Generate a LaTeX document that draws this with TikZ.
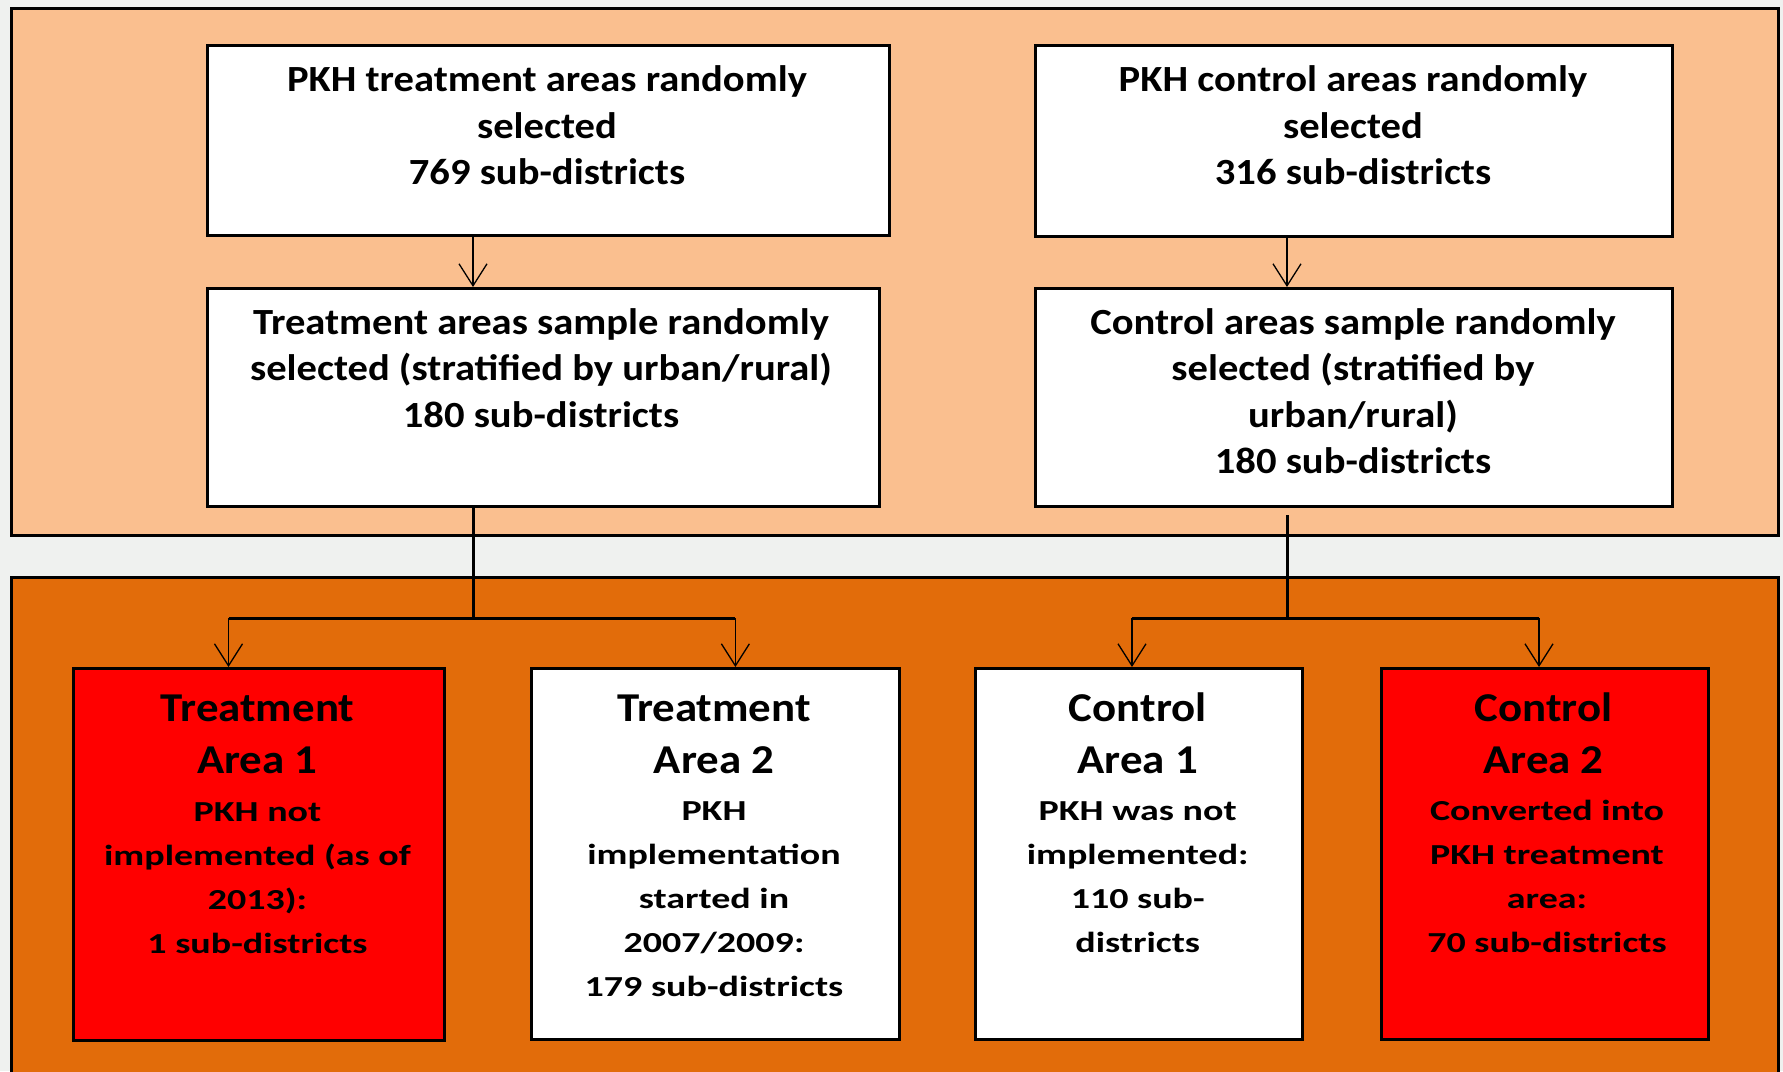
\documentclass[tikz,border=0pt]{standalone}
\usepackage{fontspec}
\setmainfont{Carlito}
\newfontfamily\topfont[FakeStretch=1.10]{Carlito}
\newfontfamily\bigfont[FakeStretch=1.095]{Carlito}
\newfontfamily\smallfont[FakeStretch=1.31]{Carlito}
\usetikzlibrary{arrows.meta}
\definecolor{bgcol}{RGB}{239,241,239}
\definecolor{peach}{RGB}{250,191,143}
\definecolor{orangedark}{RGB}{226,108,10}
\definecolor{redbox}{RGB}{255,0,0}
\tikzset{
  panel/.style={draw=black, line width=3pt, rectangle, inner sep=0pt, anchor=north west},
  box/.style={draw=black, line width=3pt, fill=white, rectangle, inner sep=0pt, anchor=north west},
  redfill/.style={fill=redbox},
  toptext/.style={anchor=base, inner sep=0pt, font=\topfont\bfseries\fontsize{36.9pt}{46.6pt}\selectfont},
  bigtext/.style={anchor=base, inner sep=0pt, font=\bigfont\bfseries\fontsize{41pt}{52.5pt}\selectfont},
  smalltext/.style={anchor=base, inner sep=0pt, font=\smallfont\bfseries\fontsize{29pt}{44pt}\selectfont},
  arr/.style={line width=1.3pt, -{Straight Barb[length=22pt, width=28pt]}},
  trunk/.style={line width=3pt}
}
\begin{document}
\begin{tikzpicture}[x=1pt, y=-1pt]
\useasboundingbox (0,0) rectangle (1783,1071);
\clip (0,0) rectangle (1783,1071);
\fill[bgcol] (0,0) rectangle (1783,1071);

% panels
\node[panel, fill=peach, minimum width=1767pt, minimum height=527pt] (toppanel) at (10,7) {};
\node[panel, fill=orangedark, minimum width=1767pt, minimum height=520pt] (botpanel) at (10,576) {};

% top boxes
\node[box, minimum width=682pt, minimum height=190pt] (box1) at (206,44) {};
\node[box, minimum width=672pt, minimum height=218pt] (box2) at (206,287) {};
\node[box, minimum width=637pt, minimum height=191pt] (box3) at (1034,44) {};
\node[box, minimum width=637pt, minimum height=218pt] (box4) at (1034,287) {};

\node[toptext] (t1) at (547,91.7) {\parbox[t]{700pt}{\centering PKH treatment areas randomly\\selected\\769 sub-districts}};
\node[toptext] (t2) at (541,334) {\parbox[t]{700pt}{\centering Treatment areas sample randomly\\selected (stratified by urban/rural)\\180 sub-districts}};
\node[toptext] (t3) at (1353,91.7) {\parbox[t]{700pt}{\centering PKH control areas randomly\\selected\\316 sub-districts}};
\node[toptext] (t4) at (1353,334) {\parbox[t]{700pt}{\centering Control areas sample randomly\\selected (stratified by\\urban/rural)\\180 sub-districts}};

% bottom boxes
\node[box, redfill, minimum width=371pt, minimum height=372pt] (b1) at (72,667) {};
\node[box, minimum width=368pt, minimum height=371pt] (b2) at (530,667) {};
\node[box, minimum width=327pt, minimum height=371pt] (b3) at (974.3,667) {};
\node[box, redfill, minimum width=327pt, minimum height=371pt] (b4) at (1380.3,667) {};

\node[bigtext] (b1h) at (257.5,721) {\parbox[t]{360pt}{\centering Treatment\\Area 1}};
\node[smalltext] (b1t) at (257.5,821.5) {\parbox[t]{360pt}{\centering PKH not\\implemented (as of\\2013):\\1 sub-districts}};
\node[bigtext] (b2h) at (714,721) {\parbox[t]{360pt}{\centering Treatment\\Area 2}};
\node[smalltext] (b2t) at (714,820.5) {\parbox[t]{360pt}{\centering PKH\\implementation\\started in\\2007/2009:\\179 sub-districts}};
\node[bigtext] (b3h) at (1137.7,721) {\parbox[t]{320pt}{\centering Control\\Area 1}};
\node[smalltext] (b3t) at (1137.7,820.5) {\parbox[t]{320pt}{\centering PKH was not\\implemented:\\110 sub-\\districts}};
\node[bigtext] (b4h) at (1543.6,721) {\parbox[t]{320pt}{\centering Control\\Area 2}};
\node[smalltext] (b4t) at (1547,820.5) {\parbox[t]{320pt}{\centering Converted into\\PKH treatment\\area:\\70 sub-districts}};

% connector coordinates
\coordinate (ax1) at (473,0);
\coordinate (ax2) at (1287,0);
\coordinate (hl) at (0,618.4);
\coordinate (la) at (228.5,618.4);
\coordinate (lb) at (735.4,618.4);
\coordinate (ra) at (1132,618.4);
\coordinate (rb) at (1539,618.4);

% top arrows
\draw[arr] (ax1 |- box1.south) -- (ax1 |- box2.north);
\draw[arr] (ax2 |- box3.south) -- (ax2 |- box4.north);

% left tree
\draw[trunk] (ax1 |- box2.south) -- (ax1 |- hl);
\draw[trunk] (la) -- (lb);
\draw[arr] (la) -- (la |- b1.north);
\draw[arr] (lb) -- (lb |- b2.north);

% right tree
\draw[trunk] ([yshift=-7pt]ax2 |- box4.south) -- (ax2 |- hl);
\draw[trunk] (ra) -- (rb);
\draw[arr] (ra) -- (ra |- b3.north);
\draw[arr] (rb) -- (rb |- b4.north);
\end{tikzpicture}
\end{document}
